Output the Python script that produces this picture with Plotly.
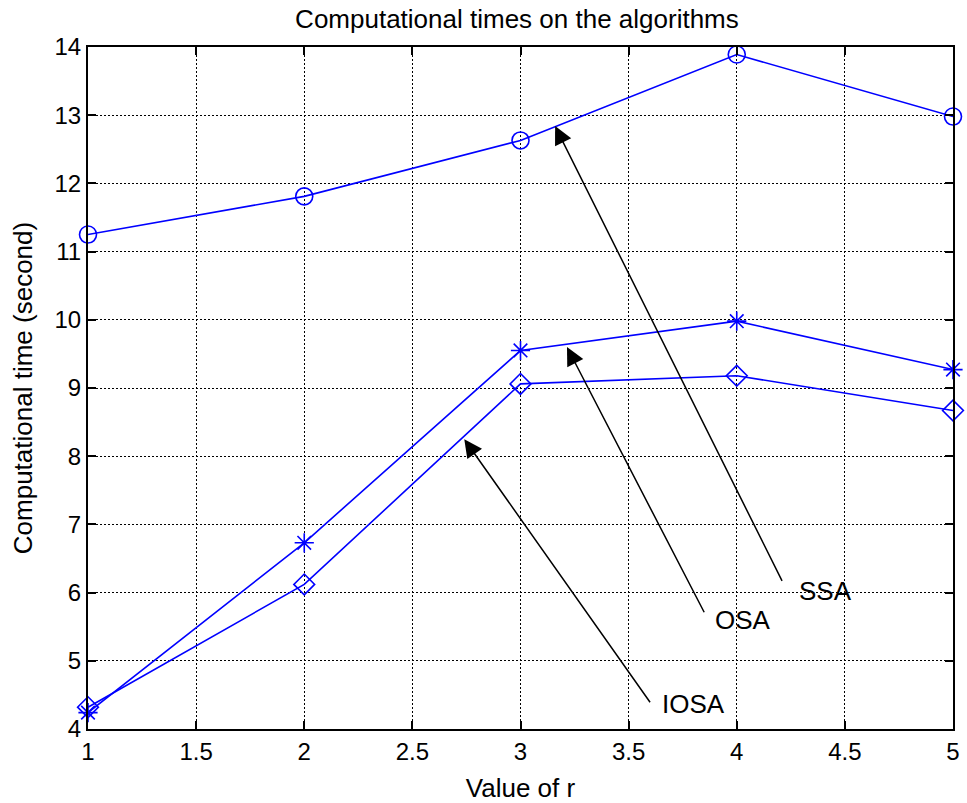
import plotly.graph_objects as go

r_values = [1, 2, 3, 4, 5]
ssa = [11.25, 11.81, 12.63, 13.89, 12.98]
osa = [4.24, 6.73, 9.55, 9.98, 9.27]
iosa = [4.32, 6.12, 9.06, 9.18, 8.67]

x_ticks = [1, 1.5, 2, 2.5, 3, 3.5, 4, 4.5, 5]
x_tick_text = ["1", "1.5", "2", "2.5", "3", "3.5", "4", "4.5", "5"]
y_ticks = [4, 5, 6, 7, 8, 9, 10, 11, 12, 13, 14]

# annotation labels: (text, label x, label y, arrow tail x, tail y, head x, head y)
labels = ["SSA", "OSA", "IOSA"]
label_x = [4.28, 3.89, 3.645]
label_y = [6.02, 5.60, 4.36]
tail_x = [4.213, 3.853, 3.604]
tail_y = [6.15, 5.69, 4.37]
head_x = [3.16, 3.215, 2.74]
head_y = [12.84, 9.60, 8.25]

BLUE = "#0000FF"
FONT = "Liberation Sans, Arial, sans-serif"

fig = go.Figure()
fig.add_trace(go.Scatter(x=r_values, y=ssa, mode="lines+markers", name="SSA", cliponaxis=False,
                         line=dict(color=BLUE, width=1.6),
                         marker=dict(symbol="circle-open", size=17, color=BLUE,
                                     line=dict(width=1.6, color=BLUE))))
fig.add_trace(go.Scatter(x=r_values, y=osa, mode="lines+markers", name="OSA", cliponaxis=False,
                         line=dict(color=BLUE, width=1.6),
                         marker=dict(symbol="asterisk-open", size=16, color=BLUE,
                                     line=dict(width=1.6, color=BLUE))))
fig.add_trace(go.Scatter(x=r_values, y=iosa, mode="lines+markers", name="IOSA", cliponaxis=False,
                         line=dict(color=BLUE, width=1.6),
                         marker=dict(symbol="diamond-open", size=16, color=BLUE,
                                     line=dict(width=1.6, color=BLUE))))

for t, lx, ly, tx, ty, hx, hy in zip(labels, label_x, label_y, tail_x, tail_y, head_x, head_y):
    fig.add_annotation(x=hx, y=hy, ax=tx, ay=ty, xref="x", yref="y", axref="x", ayref="y",
                       text="", showarrow=True, arrowhead=2, arrowsize=2.4,
                       arrowwidth=1.5, arrowcolor="black")
    fig.add_annotation(x=lx, y=ly, xref="x", yref="y", text=t, showarrow=False,
                       xanchor="left", yanchor="middle",
                       font=dict(family=FONT, size=26, color="black"))

axis_common = dict(showline=True, linecolor="black", linewidth=2, mirror="ticks",
                   ticks="inside", ticklen=8, tickwidth=1.5, tickcolor="black",
                   showgrid=True, gridcolor="black", gridwidth=1, griddash="2px,2px",
                   zeroline=False, automargin=False,
                   tickfont=dict(family=FONT, size=24, color="black"))

fig.update_xaxes(range=[1, 5], tickvals=x_ticks, ticktext=x_tick_text,
                 title=dict(text="Value of r", font=dict(family=FONT, size=26, color="black"),
                            standoff=19),
                 **axis_common)
fig.update_yaxes(range=[4, 14], tickvals=y_ticks,
                 title=dict(text="Computational time (second)",
                            font=dict(family=FONT, size=26, color="black"), standoff=14),
                 **axis_common)

fig.update_layout(
    width=967, height=803,
    margin=dict(l=88, r=14, t=47, b=74),
    paper_bgcolor="white", plot_bgcolor="white",
    showlegend=False,
    title=dict(text="Computational times on the algorithms", x=0.5346, xanchor="center",
               y=0.977, yanchor="middle",
               font=dict(family=FONT, size=26, color="black")),
)

fig.write_html("out.html", config={"displayModeBar": False},
               post_script="document.body.style.margin='0';document.body.style.overflow='hidden';")
